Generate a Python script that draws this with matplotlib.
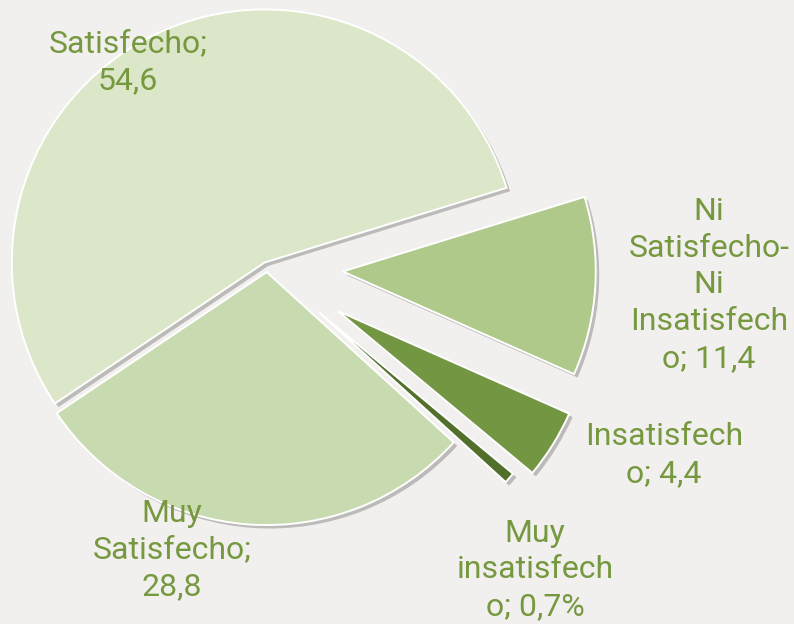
"""
Pie chart: grado de satisfaccion (Excel-style exploded pie).
"""

import matplotlib
matplotlib.use("Agg")
import matplotlib.pyplot as plt
import matplotlib.patheffects as pe

# ── Data ────────────────────────────────────────────────────────────────────

categories = [
    "Muy Satisfecho",
    "Satisfecho",
    "Ni Satisfecho-Ni Insatisfecho",
    "Insatisfecho",
    "Muy insatisfecho",
]
values = [28.8, 54.6, 11.4, 4.4, 0.7]
label_texts = [
    "Muy\nSatisfecho;\n28,8",
    "Satisfecho;\n54,6",
    "Ni\nSatisfecho-\nNi\nInsatisfech\no; 11,4",
    "Insatisfech\no; 4,4",
    "Muy\ninsatisfech\no; 0,7%",
]

# ── Style ───────────────────────────────────────────────────────────────────

BG = "#F1F0EE"
TEXT = "#76983F"
COLORS = ["#C8DAB0", "#DCE6C8", "#AFC98A", "#739643", "#52702C"]
EXPLODE = [0.02, 0.02, 0.30, 0.33, 0.27]

# pie centre / radius in pixels of the 794x624 image
CX, CY, R = 267, 267, 253
W, H = 794, 624

# label block centres in pixel coords (x right, y down)
LABEL_POS = [(172, 550), (128, 62), (709, 285), (664, 455), (535, 570)]


def px(x, y):
    """pixel position -> data units (pie radius = 1)"""
    return (x - CX) / R, (CY - y) / R


fig = plt.figure(figsize=(W / 100, H / 100), dpi=100)
fig.patch.set_facecolor(BG)
ax = fig.add_axes([0, 0, 1, 1])
ax.set_facecolor(BG)

wedges, _ = ax.pie(
    values,
    colors=COLORS,
    explode=EXPLODE,
    startangle=-42.3,
    counterclock=False,
    radius=1,
    wedgeprops=dict(edgecolor="white", linewidth=1.4),
)
for w in wedges:
    w.set_path_effects([
        pe.SimplePatchShadow(offset=(2.5, -2.5), shadow_rgbFace="black", alpha=0.22),
        pe.Normal(),
    ])

for txt, (x, y) in zip(label_texts, LABEL_POS):
    ax.text(*px(x, y), txt, ha="center", va="center", color=TEXT,
            fontsize=23, family="Roboto", linespacing=1.33)

ax.set_xlim(-CX / R, (W - CX) / R)
ax.set_ylim(-(H - CY) / R, CY / R)
ax.set_aspect("equal")
ax.axis("off")

fig.savefig("out.png", dpi=100, facecolor=BG)
